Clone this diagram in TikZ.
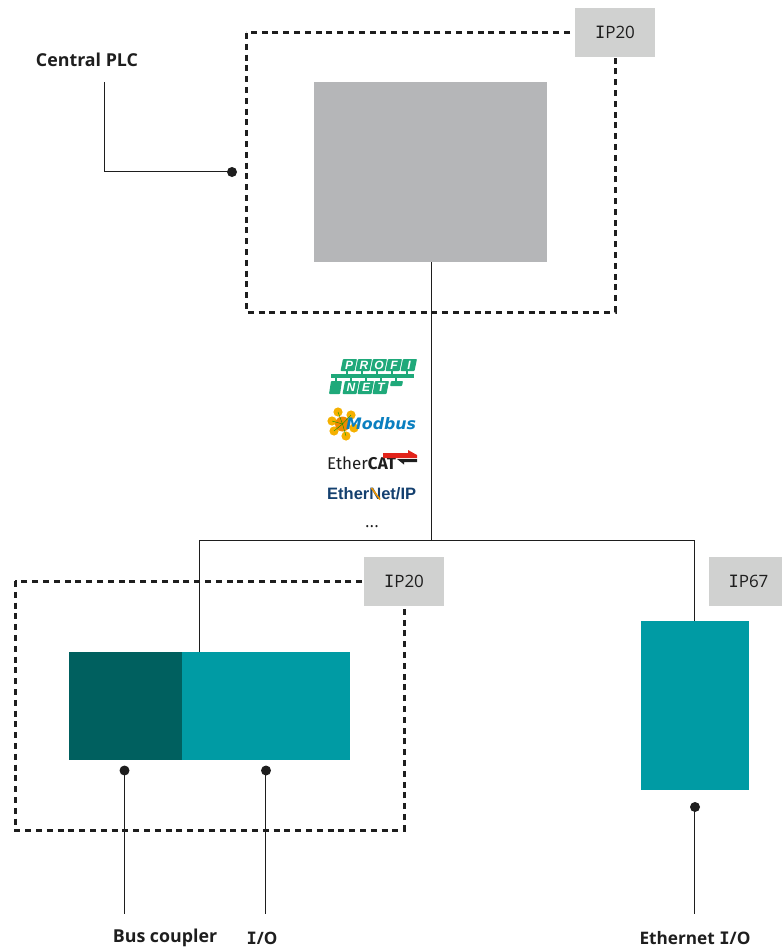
\documentclass[tikz,border=0pt]{standalone}
\usepackage{fontspec}
\setmainfont{Open Sans}
\newfontfamily\labelmono{DejaVu Sans Mono}
\newfontfamily\logoa{Liberation Sans}
\newfontfamily\logob{DejaVu Sans}
\newfontfamily\logoc{Fira Sans}
\newcommand{\slabI}{{\labelmono I}}
\definecolor{blockgray}{HTML}{B5B6B8}
\definecolor{tagray}{HTML}{D0D1D0}
\definecolor{tealdark}{HTML}{00605F}
\definecolor{teal1}{HTML}{009BA4}
\definecolor{inkk}{HTML}{1E1E1E}
\definecolor{pngreen}{HTML}{1FA97A}
\definecolor{mbblue}{HTML}{0A7FC0}
\definecolor{mbyellow}{HTML}{F5B000}
\definecolor{mborange}{HTML}{EE8A00}
\definecolor{enipblue}{HTML}{14406F}
\definecolor{catred}{HTML}{E2231A}
\tikzset{
  x=1pt,y=-1pt,
  iptag/.style={fill=tagray,minimum width=80pt,minimum height=49pt,inner sep=0pt,outer sep=0pt,
    font=\fontsize{17}{20}\selectfont,text=inkk},
  dashbox/.style={draw=inkk,line width=3pt,dash pattern=on 6pt off 4.8pt},
  wire/.style={draw=inkk,line width=1.25pt},
  blacklabel/.style={font=\bfseries\fontsize{17.8}{20}\selectfont,text=inkk,inner sep=0pt},
  dotnode/.style={circle,fill=inkk,minimum size=10pt,inner sep=0pt,outer sep=0pt},
  pnbox/.style={fill=pngreen,rounded corners=0.8pt,draw=none},
  pnlet/.style={font=\logoa\itshape\bfseries\fontsize{12}{12}\selectfont,text=white,inner sep=0pt},
}
\begin{document}
\begin{tikzpicture}
\useasboundingbox (0,0) rectangle (782,950);
% dashed enclosures
\draw[dashbox] (246,33) rectangle (615,312);
\draw[dashbox] (15,581) rectangle (404,830);
% blocks
\node[fill=blockgray,minimum width=233pt,minimum height=180pt,inner sep=0pt,outer sep=0pt] (plc) at (430.5,172) {};
\node[fill=tealdark,minimum width=113pt,minimum height=108pt,inner sep=0pt,outer sep=0pt] (coupler) at (125.5,706) {};
\node[fill=teal1,minimum width=168pt,minimum height=108pt,inner sep=0pt,outer sep=0pt] (io) at (266,706) {};
% tags
\node[iptag] (tagA) at (615,32.5) {\slabI P20};
\node[iptag] (tagB) at (404,581.5) {\slabI P20};
\node[fill=tagray,minimum width=73pt,minimum height=49pt,inner sep=0pt,outer sep=0pt] (tagC) at (745.5,581.5) {};
\node[font=\fontsize{17}{20}\selectfont,text=inkk,inner sep=0pt] (tagCt) at (748.5,581.5) {\slabI P67};
\node[fill=teal1,minimum width=108pt,minimum height=169pt,inner sep=0pt,outer sep=0pt] (eth) at (695,705.5) {};
% labels
\node[blacklabel] (lplc) at (87,60) {Central PLC};
\node[blacklabel] (lbus) at (165,938) {Bus coupler};
\node[blacklabel,font=\bfseries\fontsize{17}{20}\selectfont] (lio) at (262,938) {{\labelmono\bfseries I}/O};
\node[blacklabel,font=\bfseries\fontsize{17.2}{20}\selectfont] (leth) at (695,938) {Ethernet {\labelmono\bfseries I}/O};
% dots
\node[dotnode] (dplc) at (232,172) {};
\node[dotnode] (dbus) at (124.5,770.5) {};
\node[dotnode] (dio) at (266,770.5) {};
\node[dotnode] (deth) at (695,807) {};
% connectors
\coordinate (jn) at (431.5,540.5);
\coordinate (top1) at (431.5,262);
\coordinate (lend) at (199.5,652);
\coordinate (rend) at (694.5,621);
\coordinate (plcfoot) at (104.5,82);
\coordinate (plcelbow) at (232,171.5);
\coordinate (busfoot) at (124.5,914);
\coordinate (iofoot) at (265.5,914);
\coordinate (iotop) at (265.5,770);
\coordinate (ethfoot) at (694.5,914);
\coordinate (ethtop) at (694.5,807);
\draw[wire] (top1) -- (jn);
\draw[wire] (lend) |- (jn) -| (rend);
\draw[wire] (plcfoot) |- (plcelbow);
\draw[wire] (dbus.center) -- (busfoot);
\draw[wire] (iotop) -- (iofoot);
\draw[wire] (ethtop) -- (ethfoot);
% PROFINET logo
\foreach \i/\l in {0/P,1/R,2/O,3/F,4/I}{
  \fill[pnbox] ({343+\i*15},359) -- ({357+\i*15},359) -- ({354.5+\i*15},371) -- ({340.5+\i*15},371) -- cycle;
  \node[pnlet] (pn\i) at ({349+\i*15},365) {\l};
  \fill[pngreen] ({346+\i*15},371) rectangle ({348+\i*15},374);
}
\fill[pngreen] (331,374) rectangle (414,378);
\foreach \i in {0,...,4}{\fill[pngreen] ({335+\i*15},378) rectangle ({337+\i*15},381);}
\fill[pnbox] (331,381) -- (342,381) -- (340,394) -- (329,394) -- cycle;
\foreach \i/\l in {0/N,1/E,2/T}{
  \fill[pnbox] ({345+\i*15},381) -- ({359+\i*15},381) -- ({356.5+\i*15},394) -- ({342.5+\i*15},394) -- cycle;
  \node[pnlet] (pm\i) at ({351+\i*15},387.5) {\l};
}
\fill[pnbox] (391,381) -- (403,381) -- (402,386) -- (390,386) -- cycle;
% Modbus logo
\foreach \a/\b in {338/412,351/415,332/421,334/431,346/436,354/428,341/424}{
  \fill[mbyellow] (\a,\b) circle (4.6pt);
}
\fill[mborange] (342.5,424) circle (7.5pt);
\foreach \a/\b in {338/412,351/415,332/421,334/431,346/436}{
  \draw[green!60!black,line width=0.4pt] (342.5,424) -- (\a,\b);
}
\node[font=\logob\bfseries\itshape\fontsize{15.8}{16}\selectfont,text=mbblue,inner sep=0pt,anchor=base west] (mb) at (346,429.5) {Modbus};
% EtherCAT logo
\node[font=\logoc\fontsize{17}{18}\selectfont,text=inkk,inner sep=0pt,anchor=base west] (ecat) at (327,469) {Ether{\fontseries{b}\selectfont CAT}};
\fill[catred] (383,453) -- (408,453) -- (408,450) -- (417,455) -- (417,458) -- (383,458) -- cycle;
\fill[inkk] (417,459) -- (397,459) -- (404,464.5) -- (404,462) -- (417,462) -- cycle;
% EtherNet/IP logo
\node[font=\logoa\bfseries\fontsize{16.5}{17}\selectfont,text=enipblue,inner sep=0pt,anchor=base west] (enip) at (327,499.5) {EtherNet/IP};
\draw[mborange!90!yellow,line width=1.6pt] (371.5,488) -- (380,499.5);
% ellipsis
\node[font=\fontsize{17}{17}\selectfont,text=inkk,inner sep=0pt,anchor=base] (dots) at (372,527) {...};
\end{tikzpicture}
\end{document}
